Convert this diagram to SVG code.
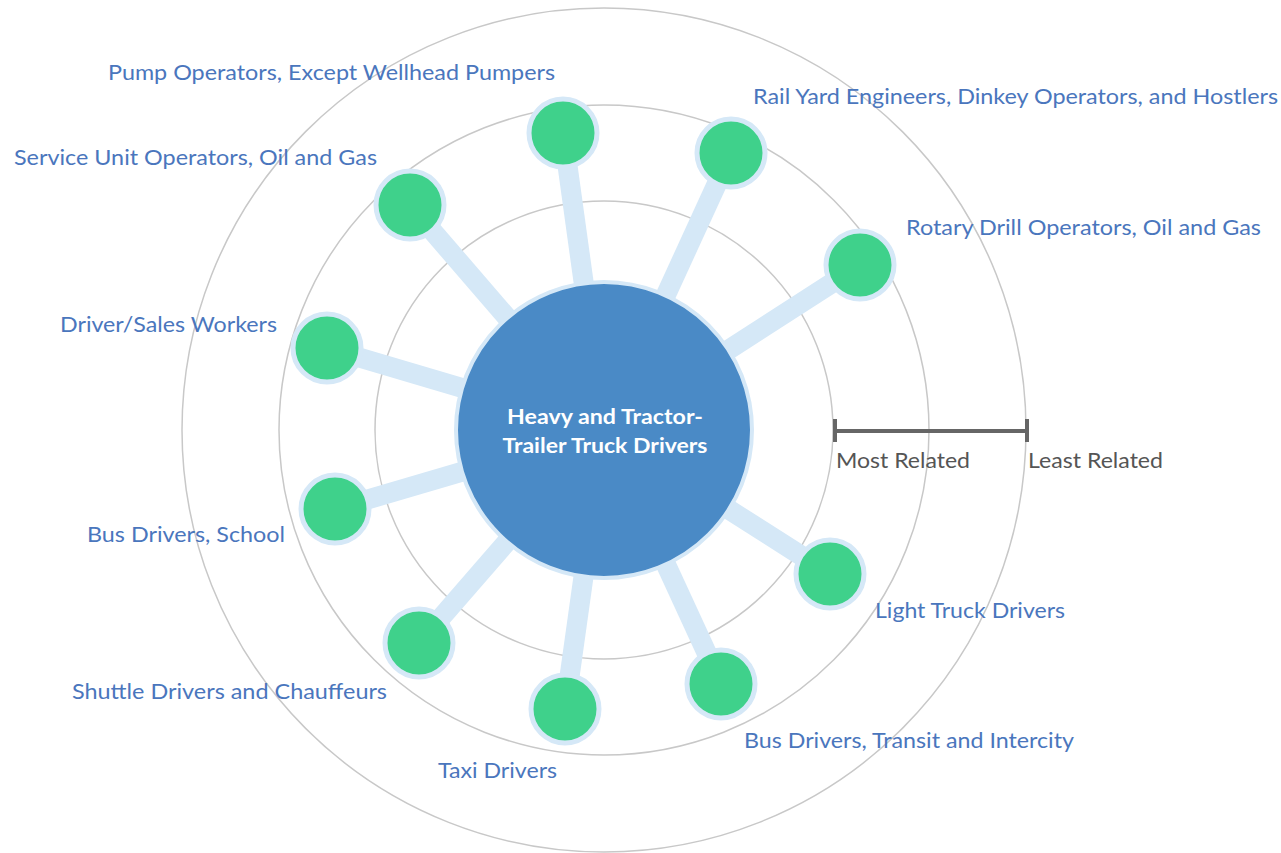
<svg xmlns="http://www.w3.org/2000/svg" width="1281" height="853" viewBox="0 0 1281 853">
<style>
.ring{fill:none;stroke:#c8c8c8;stroke-width:1.5}
.edge{stroke:#d5e8f7;stroke-width:20;stroke-linecap:butt}
.leaf{fill:#3fd18b;stroke:#d5e8f7;stroke-width:5}
.lbl{font-family:Lato,"Open Sans",sans-serif;font-size:21px;fill:#4a76bd}
.scale{font-family:Lato,"Open Sans",sans-serif;font-size:21px;fill:#555}
.ctr{font-family:Lato,"Open Sans",sans-serif;font-size:20px;font-weight:bold;fill:#fff;text-anchor:middle}
</style>
<rect width="1281" height="853" fill="#fff"/>
<g id="rings">
<circle class="ring" cx="604" cy="430" r="229"/>
<circle class="ring" cx="604" cy="430" r="325"/>
<circle class="ring" cx="604" cy="430" r="422"/>
</g>
<g id="connectors">
<line class="edge" x1="604" y1="430" x2="563" y2="133"/>
<line class="edge" x1="604" y1="430" x2="731" y2="153"/>
<line class="edge" x1="604" y1="430" x2="860" y2="265"/>
<line class="edge" x1="604" y1="430" x2="410" y2="205"/>
<line class="edge" x1="604" y1="430" x2="327" y2="348"/>
<line class="edge" x1="604" y1="430" x2="335" y2="509"/>
<line class="edge" x1="604" y1="430" x2="419" y2="643"/>
<line class="edge" x1="604" y1="430" x2="565" y2="709"/>
<line class="edge" x1="604" y1="430" x2="721" y2="684"/>
<line class="edge" x1="604" y1="430" x2="830" y2="574"/>
</g>
<g id="center">
<circle cx="604" cy="430" r="148" fill="#4a8ac6" stroke="#d5e8f7" stroke-width="4"/>
<text class="ctr" x="605" y="424" textLength="196" lengthAdjust="spacingAndGlyphs">Heavy and Tractor-</text>
<text class="ctr" x="605" y="453" textLength="205" lengthAdjust="spacingAndGlyphs">Trailer Truck Drivers</text>
</g>
<g id="n-pump"><circle class="leaf" cx="563" cy="133" r="34"/><text class="lbl" x="108" y="80" textLength="447" lengthAdjust="spacingAndGlyphs">Pump Operators, Except Wellhead Pumpers</text></g>
<g id="n-rail"><circle class="leaf" cx="731" cy="153" r="34"/><text class="lbl" x="753" y="104" textLength="525" lengthAdjust="spacingAndGlyphs">Rail Yard Engineers, Dinkey Operators, and Hostlers</text></g>
<g id="n-rotary"><circle class="leaf" cx="860" cy="265" r="34"/><text class="lbl" x="906" y="235" textLength="355" lengthAdjust="spacingAndGlyphs">Rotary Drill Operators, Oil and Gas</text></g>
<g id="n-service"><circle class="leaf" cx="410" cy="205" r="34"/><text class="lbl" x="14" y="165" textLength="363" lengthAdjust="spacingAndGlyphs">Service Unit Operators, Oil and Gas</text></g>
<g id="n-driversales"><circle class="leaf" cx="327" cy="348" r="34"/><text class="lbl" x="60" y="332" textLength="217" lengthAdjust="spacingAndGlyphs">Driver/Sales Workers</text></g>
<g id="n-busschool"><circle class="leaf" cx="335" cy="509" r="34"/><text class="lbl" x="87" y="542" textLength="198" lengthAdjust="spacingAndGlyphs">Bus Drivers, School</text></g>
<g id="n-shuttle"><circle class="leaf" cx="419" cy="643" r="34"/><text class="lbl" x="72" y="699" textLength="315" lengthAdjust="spacingAndGlyphs">Shuttle Drivers and Chauffeurs</text></g>
<g id="n-taxi"><circle class="leaf" cx="565" cy="709" r="34"/><text class="lbl" x="438" y="778" textLength="119" lengthAdjust="spacingAndGlyphs">Taxi Drivers</text></g>
<g id="n-bustransit"><circle class="leaf" cx="721" cy="684" r="34"/><text class="lbl" x="744" y="748" textLength="330" lengthAdjust="spacingAndGlyphs">Bus Drivers, Transit and Intercity</text></g>
<g id="n-lighttruck"><circle class="leaf" cx="830" cy="574" r="34"/><text class="lbl" x="875" y="618" textLength="190" lengthAdjust="spacingAndGlyphs">Light Truck Drivers</text></g>
<g id="scale">
<line x1="835" y1="431" x2="1027" y2="431" stroke="#666" stroke-width="4"/>
<line x1="835" y1="419" x2="835" y2="442" stroke="#666" stroke-width="4"/>
<line x1="1027" y1="419" x2="1027" y2="442" stroke="#666" stroke-width="4"/>
<text class="scale" x="836" y="468" textLength="134" lengthAdjust="spacingAndGlyphs">Most Related</text>
<text class="scale" x="1028" y="468" textLength="135" lengthAdjust="spacingAndGlyphs">Least Related</text>
</g>
</svg>
